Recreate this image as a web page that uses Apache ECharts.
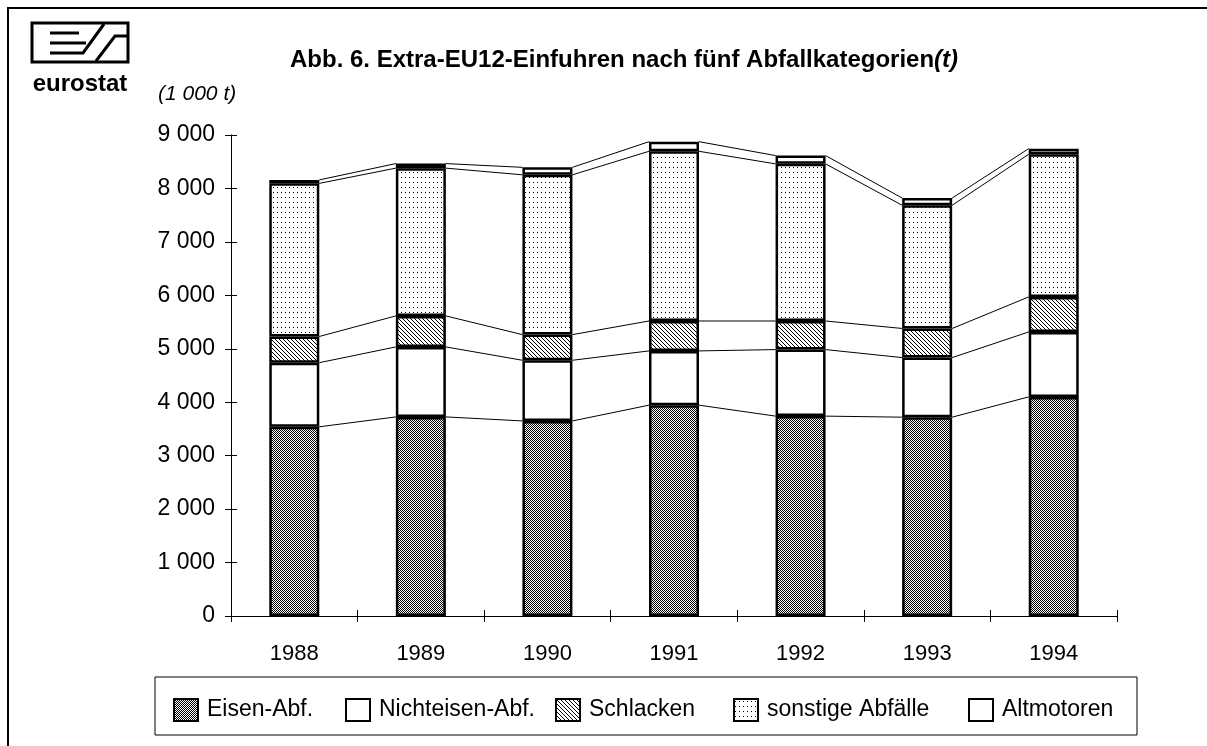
<!DOCTYPE html>
<html>
<head>
<meta charset="utf-8">
<script src="https://cdn.jsdelivr.net/npm/echarts@6/dist/echarts.min.js"></script>
<style>
  html, body { margin: 0; padding: 0; background: #fff; }
  #chart { width: 1207px; height: 746px; }
</style>
</head>
<body>
<div id="chart"></div>
<script>
// data (1 000 t)
const years = ['1988', '1989', '1990', '1991', '1992', '1993', '1994'];
const eisen = [3540, 3725, 3650, 3945, 3740, 3720, 4100];
const nichteisen = [1200, 1310, 1135, 1015, 1245, 1115, 1215];
const schlacken = [490, 580, 480, 560, 535, 545, 655];
const sonstige = [2865, 2765, 2990, 3175, 2940, 2305, 2670];
const altmotoren = [65, 85, 140, 180, 155, 135, 105];
const seriesNames = ['Eisen-Abf.', 'Nichteisen-Abf.', 'Schlacken', 'sonstige Abfälle', 'Altmotoren'];
const yTicks = [0, 9000, 1000]; // min, max, step

const FONT = '"Liberation Sans", Arial, sans-serif';
const BAR_RATIO = 0.395;

// small canvas patterns like the printed hatching
function makePattern(w, h, draw) {
  const c = document.createElement('canvas');
  c.width = w; c.height = h;
  const ctx = c.getContext('2d');
  ctx.fillStyle = '#fff';
  ctx.fillRect(0, 0, w, h);
  ctx.fillStyle = '#000';
  draw(ctx);
  return { image: c, repeat: 'repeat' };
}
const patEisen = makePattern(2, 2, ctx => {
  ctx.fillRect(0, 0, 1, 1); ctx.fillRect(1, 1, 1, 1);
});
const patSchlacken = makePattern(4, 4, ctx => {
  for (let i = 0; i < 4; i++) ctx.fillRect(i, i, 1, 1);
});
const patSonstige = makePattern(4, 5, ctx => {
  ctx.fillRect(1, 2, 1, 1);
});
const fills = [patEisen, '#fff', patSchlacken, patSonstige, '#fff'];
const values = [eisen, nichteisen, schlacken, sonstige, altmotoren];

// cumulative tops of each layer, used for the connecting lines
const levels = [];
values.forEach((arr, k) => {
  levels.push(arr.map((v, i) => v + (k > 0 ? levels[k - 1][i] : 0)));
});

const chart = echarts.init(document.getElementById('chart'));

const barSeries = seriesNames.map((name, k) => ({
  name: name,
  type: 'bar',
  stack: 'total',
  barWidth: (BAR_RATIO * 100) + '%',
  data: values[k],
  itemStyle: { color: fills[k], borderColor: '#000', borderWidth: 2.5 },
  emphasis: { disabled: true },
  z: 3
}));

const connectors = {
  type: 'custom',
  silent: true,
  z: 2,
  data: years.slice(0, -1).map((y, i) => [i, 0]),
  encode: { x: 0, y: 1 },
  renderItem: function (params, api) {
    const i = api.value(0);
    const half = api.size([1, 0])[0] * BAR_RATIO / 2;
    return {
      type: 'group',
      children: levels.map(lv => {
        const p1 = api.coord([i, lv[i]]);
        const p2 = api.coord([i + 1, lv[i + 1]]);
        return {
          type: 'line',
          shape: { x1: p1[0] + half, y1: p1[1], x2: p2[0] - half, y2: p2[1] },
          style: { stroke: '#000', lineWidth: 1 }
        };
      })
    };
  }
};

const legendLeft = [168, 340, 550, 728, 963];

const option = {
  animation: false,
  backgroundColor: '#fff',
  title: {
    left: 285,
    top: 43,
    text: '{b|Abb. 6. Extra-EU12-Einfuhren nach fünf Abfallkategorien}{i|(t)}',
    textStyle: {
      rich: {
        b: { fontFamily: FONT, fontWeight: 'bold', fontSize: 24, color: '#000' },
        i: { fontFamily: FONT, fontWeight: 'bold', fontStyle: 'italic', fontSize: 24, color: '#000' }
      }
    }
  },
  legend: seriesNames.map((n, k) => ({
    data: [n],
    left: legendLeft[k],
    top: 693,
    icon: 'rect',
    itemWidth: 24,
    itemHeight: 22,
    selectedMode: false,
    textStyle: { fontFamily: FONT, fontSize: 23, color: '#000', padding: [0, 0, 0, 4] }
  })),
  grid: { left: 231, right: 90, top: 135, bottom: 130 },
  xAxis: [
    {
      type: 'category',
      data: years,
      axisLine: { lineStyle: { color: '#000', width: 1 } },
      axisTick: { show: true, interval: 0, length: 6, lineStyle: { color: '#000' } },
      axisLabel: { fontFamily: FONT, fontSize: 22, color: '#000', margin: 27 }
    },
    {
      type: 'category',
      data: years,
      position: 'bottom',
      axisLine: { show: false },
      axisTick: { show: true, inside: true, interval: 0, length: 6, lineStyle: { color: '#000' } },
      axisLabel: { show: false }
    }
  ],
  yAxis: [
    {
      type: 'value',
      min: yTicks[0],
      max: yTicks[1],
      interval: yTicks[2],
      axisLine: { show: true, lineStyle: { color: '#000', width: 1 } },
      axisTick: { show: true, length: 6, lineStyle: { color: '#000' } },
      splitLine: { show: false },
      axisLabel: {
        fontFamily: FONT, fontSize: 23, color: '#000', margin: 16,
        formatter: v => v >= 1000 ? Math.floor(v / 1000) + ' ' + String(v % 1000).padStart(3, '0') : String(v)
      }
    },
    {
      type: 'value',
      min: yTicks[0],
      max: yTicks[1],
      interval: yTicks[2],
      position: 'left',
      axisLine: { show: false },
      axisTick: { show: true, inside: true, length: 6, lineStyle: { color: '#000' } },
      splitLine: { show: false },
      axisLabel: { show: false }
    }
  ],
  graphic: [
    // outer frame (top and left edges of the printed box)
    { type: 'polyline', shape: { points: [[8, 746], [8, 8], [1207, 8]] }, style: { stroke: '#000', lineWidth: 2, fill: null } },
    // eurostat logo
    { type: 'rect', shape: { x: 32, y: 23, width: 96, height: 39 }, style: { stroke: '#000', lineWidth: 3, fill: null } },
    { type: 'line', shape: { x1: 50, y1: 33, x2: 79, y2: 33 }, style: { stroke: '#000', lineWidth: 3 } },
    { type: 'line', shape: { x1: 50, y1: 43, x2: 86, y2: 43 }, style: { stroke: '#000', lineWidth: 3 } },
    { type: 'polyline', shape: { points: [[50, 53], [83, 53], [104, 24]] }, style: { stroke: '#000', lineWidth: 3, fill: null } },
    { type: 'polyline', shape: { points: [[96, 61], [115, 36], [128, 36]] }, style: { stroke: '#000', lineWidth: 3, fill: null } },
    { type: 'text', x: 80, y: 84, style: { text: 'eurostat', font: 'bold 24px "Liberation Sans", Arial, sans-serif', fill: '#000', textAlign: 'center', textVerticalAlign: 'middle' } },
    // unit
    { type: 'text', x: 158, y: 94, style: { text: '(1 000 t)', font: 'italic 21px ' + FONT, fill: '#000', textAlign: 'left', textVerticalAlign: 'middle' } },
    // legend frame
    { type: 'rect', shape: { x: 155, y: 677, width: 982, height: 58 }, style: { stroke: '#000', lineWidth: 1, fill: null } }
  ],
  series: barSeries.concat([connectors])
};

chart.setOption(option);
</script>
</body>
</html>
